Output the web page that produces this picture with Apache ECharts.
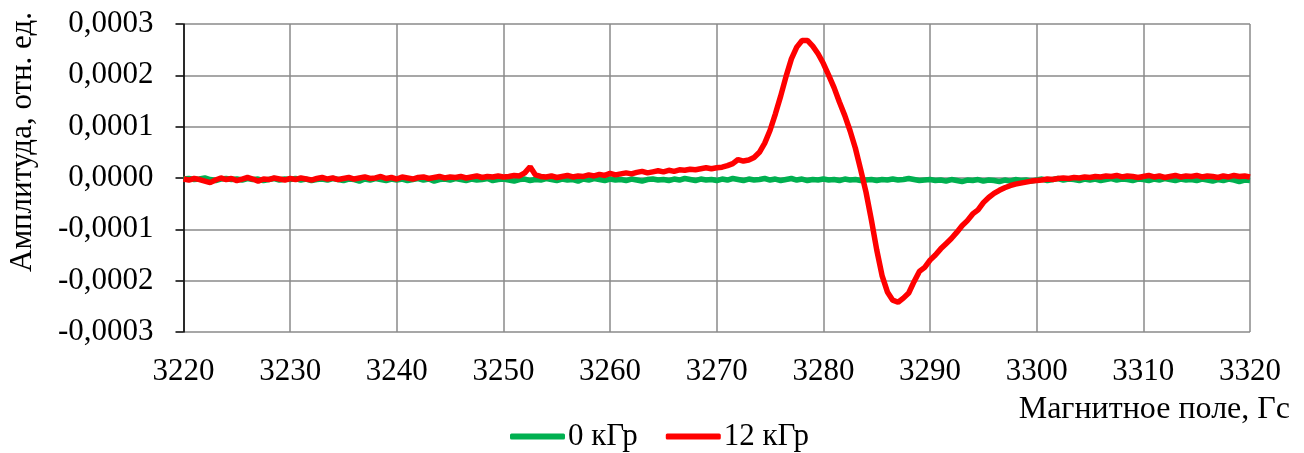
<!DOCTYPE html>
<html>
<head>
<meta charset="utf-8">
<script src="https://cdn.jsdelivr.net/npm/echarts@6/dist/echarts.min.js"></script>
<style>
  html, body { margin: 0; padding: 0; background: #fff; }
  #chart-div { width: 1304px; height: 453px; }
</style>
</head>
<body>
<div id="chart-div"></div>
<script>
// магнитное поле, Гс: шаг сетки отсчётов
const fieldStart = 3220
const fieldStep = 0.5

// амплитуда в единицах 1e-4 (отн. ед.), 10 отсчётов на строку = 5 Гс
const dose0 = [
  -0.02, -0.01, -0.03, -0.02, 0.00, -0.03, -0.05, -0.02, -0.01, -0.03,
  -0.02, -0.04, -0.01, -0.03, -0.02, -0.05, -0.03, -0.01, -0.04, -0.02,
  -0.03, -0.01, -0.04, -0.02, -0.05, -0.03, -0.02, -0.04, -0.01, -0.03,
  -0.05, -0.02, -0.03, -0.06, -0.02, -0.04, -0.01, -0.03, -0.05, -0.02,
  -0.04, -0.02, -0.05, -0.03, -0.01, -0.04, -0.02, -0.06, -0.03, -0.02,
  -0.04, -0.01, -0.03, -0.05, -0.02, -0.04, -0.03, -0.01, -0.05, -0.03,
  -0.02, -0.04, -0.06, -0.03, -0.02, -0.05, -0.03, -0.04, -0.01, -0.03,
  -0.05, -0.02, -0.04, -0.03, -0.06, -0.02, -0.04, -0.01, -0.03, -0.05,
  -0.02, -0.04, -0.03, -0.05, -0.02, -0.04, -0.06, -0.03, -0.02, -0.04,
  -0.03, -0.05, -0.02, -0.04, -0.01, -0.03, -0.05, -0.02, -0.04, -0.03,
  -0.05, -0.02, -0.04, -0.01, -0.03, -0.05, -0.02, -0.04, -0.03, -0.01,
  -0.04, -0.02, -0.05, -0.03, -0.01, -0.04, -0.02, -0.05, -0.03, -0.04,
  -0.02, -0.04, -0.03, -0.05, -0.02, -0.04, -0.03, -0.05, -0.04, -0.03,
  -0.05, -0.03, -0.04, -0.02, -0.04, -0.03, -0.01, -0.03, -0.05, -0.04,
  -0.03, -0.05, -0.04, -0.06, -0.03, -0.05, -0.07, -0.04, -0.05, -0.03,
  -0.06, -0.04, -0.05, -0.07, -0.04, -0.06, -0.03, -0.05, -0.04, -0.06,
  -0.04, -0.02, -0.05, -0.03, -0.01, -0.04, -0.02, -0.03, -0.05, -0.02,
  -0.04, -0.02, -0.05, -0.03, -0.01, -0.04, -0.02, -0.03, -0.05, -0.02,
  -0.03, -0.05, -0.02, -0.04, -0.01, -0.03, -0.05, -0.02, -0.04, -0.03,
  -0.05, -0.02, -0.04, -0.06, -0.03, -0.05, -0.02, -0.04, -0.07, -0.04,
  -0.05
]

const dose12 = [
  -0.02, -0.04, -0.01, -0.03, -0.06, -0.09, -0.04, 0.00, -0.03, -0.01,
  -0.05, -0.02, 0.01, -0.02, -0.06, -0.02, -0.03, 0.00, -0.02, -0.04,
  -0.01, -0.03, 0.00, -0.02, -0.04, -0.01, 0.01, -0.02, 0.00, -0.03,
  -0.01, 0.01, -0.02, 0.00, 0.02, -0.01, 0.00, 0.03, -0.01, 0.01,
  -0.02, 0.02, 0.00, -0.02, 0.01, 0.02, -0.01, 0.01, 0.03, 0.00,
  0.02, 0.01, 0.03, 0.00, 0.02, 0.04, 0.01, 0.03, 0.02, 0.04,
  0.02, 0.03, 0.05, 0.04, 0.10, 0.22, 0.06, 0.03, 0.02, 0.04,
  0.01, 0.03, 0.05, 0.02, 0.04, 0.03, 0.06, 0.04, 0.07, 0.05,
  0.09, 0.06, 0.08, 0.10, 0.08, 0.11, 0.13, 0.10, 0.12, 0.14,
  0.12, 0.15, 0.13, 0.16, 0.15, 0.17, 0.16, 0.18, 0.20, 0.18,
  0.20, 0.21, 0.24, 0.28, 0.36, 0.33, 0.35, 0.40, 0.50, 0.68,
  0.93, 1.25, 1.60, 1.98, 2.32, 2.55, 2.68, 2.68, 2.57, 2.42,
  2.23, 2.00, 1.76, 1.48, 1.22, 0.92, 0.58, 0.16, -0.28, -0.82,
  -1.40, -1.90, -2.22, -2.38, -2.42, -2.34, -2.24, -2.02, -1.82, -1.74,
  -1.60, -1.50, -1.38, -1.28, -1.18, -1.06, -0.93, -0.83, -0.70, -0.62,
  -0.48, -0.38, -0.30, -0.24, -0.19, -0.15, -0.12, -0.10, -0.08, -0.06,
  -0.05, -0.04, -0.02, -0.03, -0.01, 0.00, -0.01, 0.01, 0.00, 0.02,
  0.01, 0.03, 0.02, 0.04, 0.03, 0.05, 0.02, 0.04, 0.03, 0.01,
  0.03, 0.05, 0.02, 0.04, 0.01, 0.03, 0.05, 0.02, 0.04, 0.03,
  0.05, 0.02, 0.04, 0.03, 0.01, 0.04, 0.02, 0.05, 0.03, 0.04,
  0.02
]

const seriesNames = ['0 кГр', '12 кГр']
const seriesColors = ['#00b050', '#ff0000']

const font = "'Liberation Serif', 'Times New Roman', serif"

function pairs(values) {
    return values.map((v, i) => [fieldStart + i * fieldStep, v])
}

let myChart = echarts.init(document.getElementById('chart-div'))

const option = {
    animation: false,
    grid: { left: 183.5, right: 54, top: 24, bottom: 121 },
    legend: {
        left: 510,
        top: 421,
        padding: 0,
        itemWidth: 55,
        itemHeight: 6,
        itemGap: 28,
        icon: 'roundRect',
        textStyle: { fontFamily: font, fontSize: 31, color: '#000', padding: [0, 0, 0, -2] },
        data: seriesNames
    },
    graphic: [
        {
            type: 'text', x: 1290, y: 410,
            style: { text: 'Магнитное поле, Гс', font: '32px ' + font, fill: '#000',
                     textAlign: 'right', textVerticalAlign: 'middle' }
        },
        {
            type: 'text', x: 23, y: 142, rotation: Math.PI / 2,
            style: { text: 'Амплитуда, отн. ед.', font: '31px ' + font, fill: '#000',
                     textAlign: 'center', textVerticalAlign: 'middle' }
        }
    ],
    xAxis: {
        type: 'value',
        min: 3220, max: 3320, interval: 10,
        axisLine: { show: false },
        axisTick: { show: false },
        axisLabel: {
            fontFamily: font, fontSize: 31, color: '#000', margin: 24,
            formatter: v => String(v)
        },
        splitLine: { show: true, lineStyle: { color: '#8a8a8a', width: 1.5 } }
    },
    yAxis: {
        type: 'value',
        min: -3, max: 3, interval: 1,
        axisLine: { show: true, lineStyle: { color: '#000', width: 1.5 } },
        axisTick: { show: true, length: 8, lineStyle: { color: '#000', width: 1.5 } },
        axisLabel: {
            fontFamily: font, fontSize: 31, color: '#000', margin: 30,
            formatter: v => (v / 10000).toFixed(4).replace('.', ',')
        },
        splitLine: { show: true, lineStyle: { color: '#8a8a8a', width: 1.5 } }
    },
    series: [
        {
            name: seriesNames[0], type: 'line', showSymbol: false,
            color: seriesColors[0],
            lineStyle: { width: 5.5, color: seriesColors[0] },
            data: pairs(dose0)
        },
        {
            name: seriesNames[1], type: 'line', showSymbol: false,
            color: seriesColors[1],
            lineStyle: { width: 5.5, color: seriesColors[1] },
            data: pairs(dose12)
        }
    ]
}

myChart.setOption(option)
</script>
</body>
</html>
